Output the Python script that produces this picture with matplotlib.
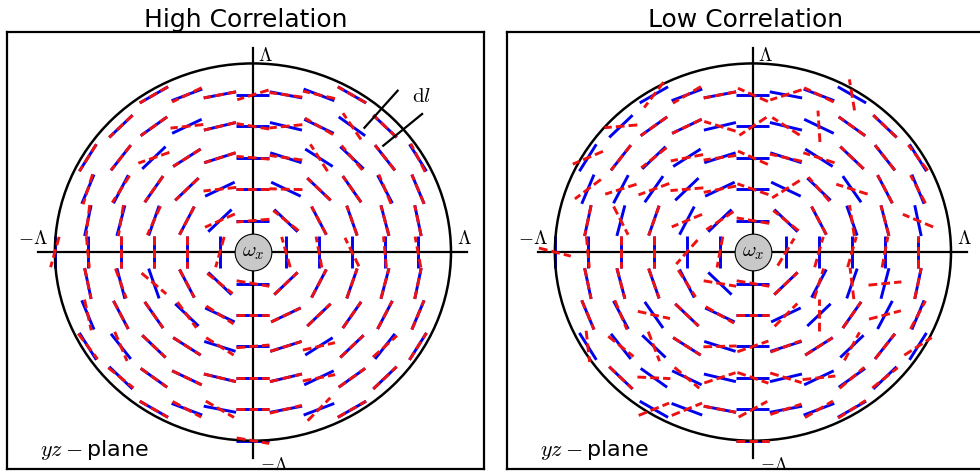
import numpy as np
import matplotlib
matplotlib.use("Agg")
import matplotlib.pyplot as plt
from matplotlib.collections import LineCollection
from matplotlib.patches import Circle

plt.rcParams["mathtext.fontset"] = "cm"

# Grid rows in the yz-plane (z index, top to bottom) and the first y index of each row
row_z = [5, 4, 3, 2, 1, 0, -1, -2, -3, -4, -5, -6]
row_y_start = [-3, -4, -5, -5, -5, -6, -5, -5, -5, -4, -3, 0]

# Deviation (degrees) of the measured direction from the vortex direction, per grid point
high_dev = [
    [0, 5, 0, 18, 3, 8, 0],
    [0, 0, -20, 0, -10, 20, -5, -20, 0],
    [0, 0, -25, 0, 0, -5, 10, -25, -6, 0, -5],
    [5, -5, 0, 0, -20, 0, 25, 0, 0, -5, 0],
    [5, 5, -5, 0, -20, 5, 5, 0, 0, 0, 0],
    [-15, 5, 0, 0, 0, -15, None, 15, 10, 25, 5, 10],
    [0, 5, 30, 0, 5, -10, 0, 0, 0, 0, 0],
    [-10, 0, 0, -10, -8, 0, 0, 0, 0, 0, 0],
    [5, -15, 0, 0, -15, 5, 0, -20, 0, -10, 0],
    [5, 0, 0, 0, 0, 0, -15, 0, 0],
    [0, -8, -20, 0, 3, 25, 0],
    [-10],
]

low_dev = [
    [23, 10, 0, -25, 30, -5, -50],
    [-40, 0, 0, -32, 35, -20, -60, 0, 0],
    [-35, 0, -5, -22, -10, -25, 5, 15, 0, 0, 5],
    [-30, -45, -35, -40, -15, -20, 60, -5, 38, 0, 5],
    [0, 40, 0, -40, -10, -10, 5, 0, -10, 0, 55],
    [75, 5, 0, 0, -40, -10, None, -30, -15, -15, -10, 0],
    [0, 0, 0, 5, 35, -10, 0, 10, 25, -70, 0],
    [0, -5, 43, 0, -5, 0, 20, 45, 0, -48, -5],
    [-25, 13, -25, 0, 20, 20, 3, 0, 18, 0, -25],
    [0, 34, -15, 33, -20, -32, -20, 5, -5],
    [54, 45, 0, 30, 8, 10, 3],
    [0],
]

titles = ["High Correlation", "Low Correlation"]

RADIUS = 6.0
HALF = 0.5


def segment(yc, zc, ang_deg):
    a = np.radians(ang_deg)
    dy, dz = HALF * np.cos(a), HALF * np.sin(a)
    return [(yc - dy, zc - dz), (yc + dy, zc + dz)]


fig = plt.figure(figsize=(9.8, 4.72), dpi=100)
lefts = [7 / 980, 507 / 980]

for idx, (title, devs, left) in enumerate(zip(titles, [high_dev, low_dev], lefts)):
    ax = fig.add_axes([left, 3 / 472, 477 / 980, 437 / 472])
    ax.set_xlim(-7.45, 7.0)
    ax.set_ylim(-6.9, 7.0)
    ax.set_xticks([])
    ax.set_yticks([])
    for sp in ax.spines.values():
        sp.set_linewidth(1.6)
    ax.set_title(title, fontsize=18, pad=3)

    blue, red = [], []
    for z, y0, row in zip(row_z, row_y_start, devs):
        for k, d in enumerate(row):
            if d is None:
                continue
            y = y0 + k
            base = np.degrees(np.arctan2(y, -z))
            blue.append(segment(y, z, base))
            red.append(segment(y, z, base + d))

    ax.add_collection(LineCollection(blue, colors="#0000ee", linewidths=2.1,
                                     capstyle="butt", zorder=2))
    ax.add_collection(LineCollection(red, colors="#ee1111", linewidths=2.1,
                                     linestyles=[(0, (3.0, 1.4))],
                                     capstyle="butt", zorder=4))

    ax.add_patch(Circle((0, 0), RADIUS, fill=False, color="k", lw=1.8, zorder=3))
    ax.plot([-6.5, 6.5], [0, 0], color="k", lw=1.6, zorder=3)
    ax.plot([0, 0], [-6.55, 6.5], color="k", lw=1.6, zorder=3)

    ax.scatter([0], [0], s=700, facecolor="#c8c8c8", edgecolor="k",
               linewidth=0.8, zorder=6)
    ax.text(0, 0, r"$\omega_x$", fontsize=15, ha="center", va="center", zorder=7)

    ax.text(0.15, 6.25, r"$\Lambda$", fontsize=14, ha="left", va="center")
    ax.text(0.2, -6.45, r"$-\Lambda$", fontsize=13, ha="left", va="top")
    ax.text(-6.2, 0.12, r"$-\Lambda$", fontsize=14, ha="right", va="bottom")
    ax.text(6.18, 0.12, r"$\Lambda$", fontsize=14, ha="left", va="bottom")

    ax.text(0.07, 0.03, r"$yz-$plane", transform=ax.transAxes, fontsize=16,
            va="baseline", ha="left")

    if idx == 0:
        for ang in (49.5, 40.6):
            a = np.radians(ang)
            r = np.array([5.2, 6.75])
            ax.plot(r * np.cos(a), r * np.sin(a), color="k", lw=1.6, zorder=5)
        ax.text(5.12, 4.98, r"$\mathrm{d}l$", fontsize=15, ha="center", va="center")

fig.savefig("out.png", dpi=100)
